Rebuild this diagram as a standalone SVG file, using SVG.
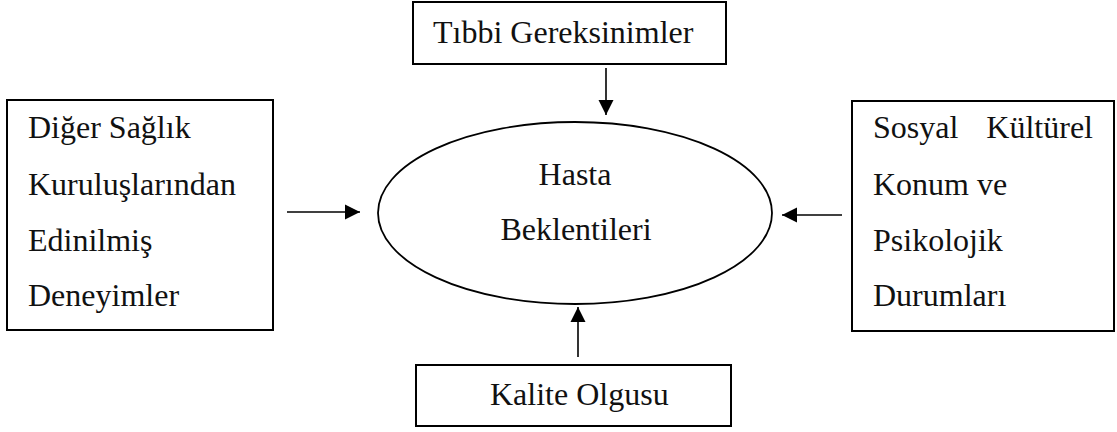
<svg xmlns="http://www.w3.org/2000/svg" width="1117" height="432" viewBox="0 0 1117 432">
<style>
.box{fill:#fff;stroke:#000;stroke-width:2}
.t{font-family:"Liberation Serif","Times New Roman",serif;font-size:32px;fill:#111}
.c{stroke:#000;stroke-width:1.6;fill:none}
</style>
<defs>
<marker id="ah" markerUnits="userSpaceOnUse" markerWidth="16" markerHeight="16" viewBox="0 0 16 16" refX="15" refY="8" orient="auto">
<path d="M0,0.5 L15,8 L0,15.5 Z" fill="#000"/>
</marker>
</defs>
<rect width="1117" height="432" fill="#fff"/>
<g id="node-top">
<rect class="box" x="413" y="2" width="313" height="62"/>
<text class="t" x="433" y="43">Tıbbi Gereksinimler</text>
</g>
<g id="node-left">
<rect class="box" x="7" y="100" width="266" height="230"/>
<text class="t" x="28" y="138">Diğer Sağlık</text>
<text class="t" x="28" y="195">Kuruluşlarından</text>
<text class="t" x="28" y="251">Edinilmiş</text>
<text class="t" x="28" y="306">Deneyimler</text>
</g>
<g id="node-center">
<ellipse cx="575" cy="213" rx="197" ry="91" fill="#fff" stroke="#000" stroke-width="1.8"/>
<text class="t" x="575" y="185" text-anchor="middle">Hasta</text>
<text class="t" x="576" y="240" text-anchor="middle">Beklentileri</text>
</g>
<g id="node-right">
<rect class="box" x="852" y="101" width="262" height="230"/>
<text class="t" x="873" y="138">Sosyal</text>
<text class="t" x="1093" y="138" text-anchor="end">Kültürel</text>
<text class="t" x="873" y="195">Konum ve</text>
<text class="t" x="873" y="251">Psikolojik</text>
<text class="t" x="873" y="306">Durumları</text>
</g>
<g id="node-bottom">
<rect class="box" x="416" y="365" width="315" height="61"/>
<text class="t" x="490" y="405">Kalite Olgusu</text>
</g>
<g id="connectors">
<line class="c" x1="606" y1="68" x2="606" y2="115" marker-end="url(#ah)"/>
<line class="c" x1="287" y1="212" x2="360" y2="212" marker-end="url(#ah)"/>
<line class="c" x1="842" y1="215" x2="782" y2="215" marker-end="url(#ah)"/>
<line class="c" x1="578" y1="357" x2="578" y2="307" marker-end="url(#ah)"/>
</g>
</svg>
